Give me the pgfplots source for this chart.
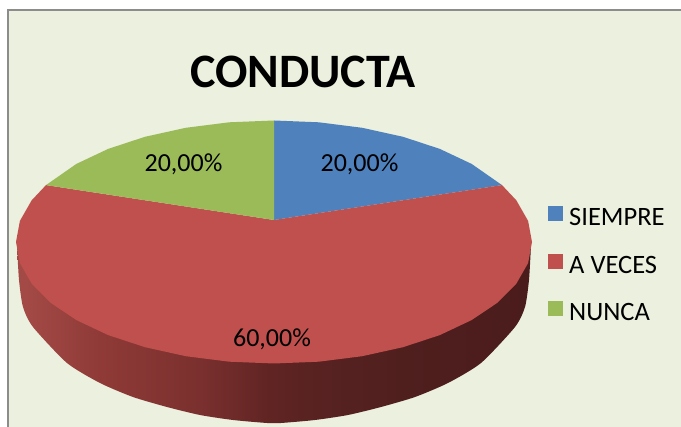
\documentclass[border=0pt]{standalone}
\usepackage{fontspec}
\setmainfont{Carlito}
\usepackage{pgfplots}
\pgfplotsset{compat=1.18}
\definecolor{bgc}{HTML}{EBF0DF}
\definecolor{frameC}{HTML}{8C8C8C}
\definecolor{blueC}{HTML}{4F81BD}
\definecolor{redC}{HTML}{BF504D}
\definecolor{greenC}{HTML}{9BBB59}
\definecolor{sa}{HTML}{A34A46}
\definecolor{sb}{HTML}{8F3A37}
\definecolor{sc}{HTML}{7A302E}
\definecolor{sd}{HTML}{602423}
\definecolor{se}{HTML}{5A2322}
\definecolor{sf}{HTML}{4F1F1E}
\definecolor{sg}{HTML}{4A1C1B}
\pgfdeclarehorizontalshading{sidefade}{100bp}{
 color(0bp)=(sa);
 color(25bp)=(sa);
 color(25.8bp)=(sa);
 color(33.1bp)=(sb);
 color(42.8bp)=(sc);
 color(49.6bp)=(sd);
 color(52.5bp)=(se);
 color(62.3bp)=(sf);
 color(75bp)=(sg);
 color(100bp)=(sg)}
\begin{document}
\begin{tikzpicture}
\begin{axis}[
  scale only axis, width=681pt, height=427pt,
  xmin=0, xmax=681, ymin=0, ymax=427, y dir=reverse,
  hide axis,
  area legend,
  legend image code/.code={\fill[#1] (0pt,-1.5pt) rectangle (15pt,13.5pt);},
  legend cell align=left,
  legend style={at={(axis cs:548,206)}, anchor=north west, draw=none, fill=none,
    inner sep=0pt, font=\fontsize{26.5}{26.5}\selectfont, row sep=22pt,
    nodes={inner sep=0pt, text height=18pt, text depth=6pt},
    /tikz/every odd column/.append style={column sep=6pt}},
]
% page background and frame
\addplot[fill=white, draw=none, forget plot] coordinates {(0,0)(681,0)(681,427)(0,427)} -- cycle;
\addplot[fill=bgc, draw=none, forget plot] coordinates {(8,10)(681,10)(681,427)(8,427)} -- cycle;
\addplot[frameC, line width=2pt, forget plot] coordinates {(8,427)(8,10)(681,10)};
% side of the pie
\addplot[shading=sidefade, draw=none, forget plot, smooth, tension=0.4] coordinates {
 (17,245)(19,280)(23,307)(33,327)(67,363)(100,383)(133,397)(167,407)(200,415)(233,420)(267,423)
 (281,423)(315,420)(348,415)(381,407)(415,397)(448,383)(481,363)(515,327)(525,307)(529,280)(531,245)} -- cycle;
% SIEMPRE
\addplot[fill=blueC, draw=none] coordinates {
 (274,220)(274,120.5)(318.8,122.3)(362.2,127.8)(403,136.8)(439.8,148.9)(471.6,163.9)(502,185.1)} -- cycle;
\addlegendentry{SIEMPRE}
% A VECES
\addplot[fill=redC, draw=none] coordinates {
 (274,220)(502,185.1)(516.4,200.4)(528.1,220.9)(532,242)(528.1,263.1)(516.4,283.6)(497.4,302.8)
 (471.6,320.1)(439.8,335.1)(403,347.2)(362.2,356.2)(318.8,361.7)(274,363.5)(229.2,361.7)
 (185.8,356.2)(145,347.2)(108.2,335.1)(76.4,320.1)(50.6,302.8)(31.6,283.6)(19.9,263.1)
 (16,242)(19.9,220.9)(31.6,200.4)(46,185.1)} -- cycle;
\addlegendentry{A VECES}
% NUNCA
\addplot[fill=greenC, draw=none] coordinates {
 (274,220)(46,185.1)(76.4,163.9)(108.2,148.9)(145,136.8)(185.8,127.8)(229.2,122.3)(274,120.5)} -- cycle;
\addlegendentry{NUNCA}
\node[anchor=base, font=\fontsize{48}{48}\selectfont\bfseries] at (axis cs:303,88) {CONDUCTA};
\node[anchor=base, font=\fontsize{26}{26}\selectfont] at (axis cs:183.5,172) {20,00\%};
\node[anchor=base, font=\fontsize{26}{26}\selectfont] at (axis cs:359.5,172) {20,00\%};
\node[anchor=base, font=\fontsize{26}{26}\selectfont] at (axis cs:272,347) {60,00\%};
\end{axis}
\end{tikzpicture}
\end{document}
